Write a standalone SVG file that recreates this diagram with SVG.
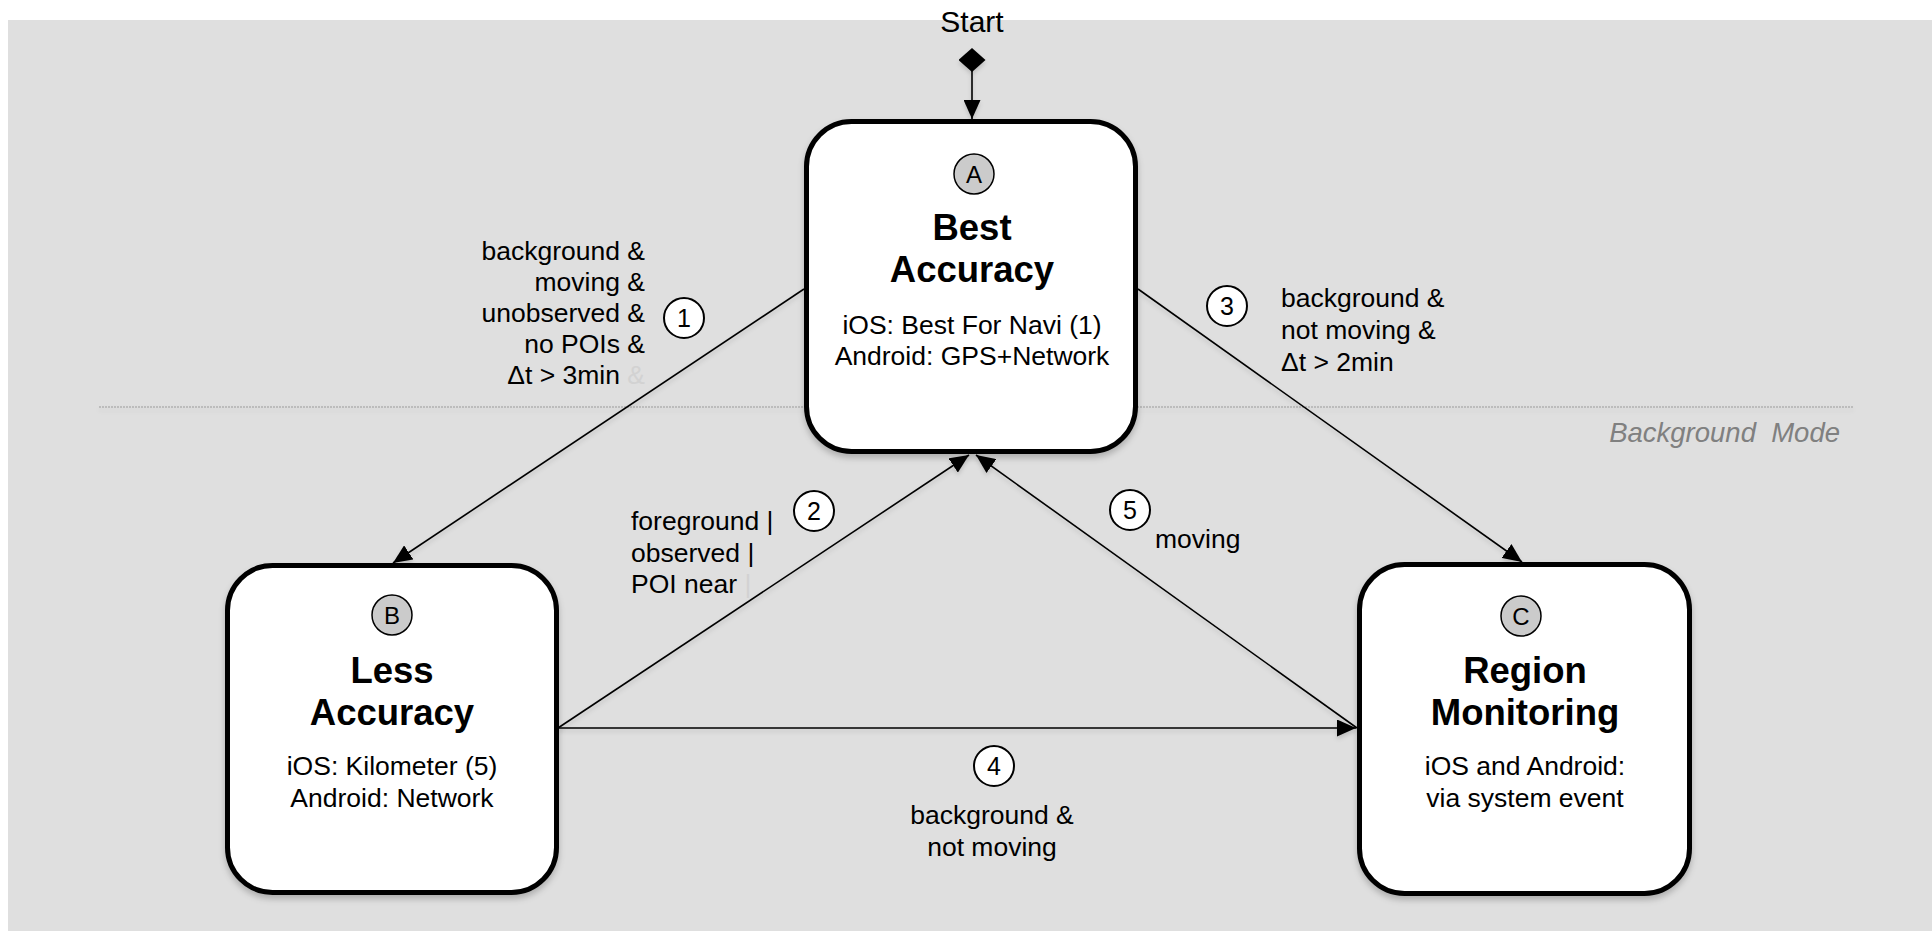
<svg xmlns="http://www.w3.org/2000/svg" width="1932" height="931" viewBox="0 0 1932 931">
<style>
  text { font-family: "Liberation Sans", Arial, Helvetica, sans-serif; fill: #000; }
  .title { font-size: 36.5px; font-weight: bold; text-anchor: middle; }
  .body { font-size: 26.5px; text-anchor: middle; }
  .lbl { font-size: 26.5px; }
  .num { font-size: 25px; text-anchor: middle; }
  .letter { font-size: 24px; text-anchor: middle; }
  .box { fill: #fff; stroke: #000; stroke-width: 5; }
  .badge { fill: #cbcbcb; stroke: #000; stroke-width: 1.5; }
  .numc { fill: #fff; stroke: #000; stroke-width: 2; }
  .edge { stroke: #000; stroke-width: 1.6; fill: none; marker-end: url(#arr); }
  .faint { fill: #d2d2d2; }
</style>
<defs>
  <filter id="shadow" x="-10%" y="-10%" width="120%" height="125%">
    <feDropShadow dx="0" dy="4" stdDeviation="3" flood-color="#000" flood-opacity="0.22"/>
  </filter>
  <filter id="lshadow" filterUnits="userSpaceOnUse" x="0" y="0" width="1932" height="931">
    <feDropShadow dx="0" dy="3" stdDeviation="2" flood-color="#000" flood-opacity="0.15"/>
  </filter>
  <marker id="arr" viewBox="0 0 19 17" refX="19" refY="8.5" markerWidth="19" markerHeight="17" markerUnits="userSpaceOnUse" orient="auto">
    <path d="M0,0 L19,8.5 L0,17 z" fill="#000"/>
  </marker>
  <marker id="diamond" viewBox="-12 -13.5 24 27" refX="0" refY="0" markerWidth="24" markerHeight="27" markerUnits="userSpaceOnUse" orient="auto">
    <path d="M-12,0 L0,-13.5 L12,0 L0,13.5 z" fill="#000"/>
  </marker>
</defs>

<rect x="8" y="20" width="1924" height="911" fill="#dfdfdf"/>

<g id="background-mode">
  <line x1="99" y1="407" x2="1853" y2="407" stroke="#9a9a9a" stroke-width="1" stroke-dasharray="2,1" filter="url(#lshadow)"/>
  <text x="1840" y="442" font-size="27.5" font-style="italic" text-anchor="end" style="fill:#808080" xml:space="preserve">Background  Mode</text>
</g>

<text x="972" y="32" font-size="30" text-anchor="middle">Start</text>

<g id="connectors" filter="url(#lshadow)">
  <line x1="972" y1="60" x2="972" y2="119" stroke="#000" stroke-width="1.6" marker-start="url(#diamond)" marker-end="url(#arr)"/>
  <line class="edge" x1="804" y1="289" x2="393" y2="563"/>
  <line class="edge" x1="558" y1="728" x2="969" y2="455"/>
  <line class="edge" x1="1138" y1="289" x2="1522" y2="562"/>
  <line class="edge" x1="558" y1="728" x2="1356" y2="728"/>
  <line class="edge" x1="1357" y1="728" x2="976" y2="455"/>
</g>

<g id="node-a">
  <rect class="box" x="806.5" y="121.5" width="329" height="330" rx="45" filter="url(#shadow)"/>
  <circle class="badge" cx="974" cy="174" r="20"/>
  <text class="letter" x="974" y="182.5">A</text>
  <text class="title" x="972" y="240">Best</text>
  <text class="title" x="972" y="282">Accuracy</text>
  <text class="body" x="972" y="334">iOS: Best For Navi (1)</text>
  <text class="body" x="972" y="365">Android: GPS+Network</text>
</g>

<g id="node-b">
  <rect class="box" x="227.5" y="565.5" width="329" height="327" rx="45" filter="url(#shadow)"/>
  <circle class="badge" cx="392" cy="615" r="20"/>
  <text class="letter" x="392" y="623.5">B</text>
  <text class="title" x="392" y="683">Less</text>
  <text class="title" x="392" y="725">Accuracy</text>
  <text class="body" x="392" y="775">iOS: Kilometer (5)</text>
  <text class="body" x="392" y="807">Android: Network</text>
</g>

<g id="node-c">
  <rect class="box" x="1359.5" y="564.5" width="330" height="329" rx="45" filter="url(#shadow)"/>
  <circle class="badge" cx="1521" cy="616" r="20"/>
  <text class="letter" x="1521" y="624.5">C</text>
  <text class="title" x="1525" y="683">Region</text>
  <text class="title" x="1525" y="725">Monitoring</text>
  <text class="body" x="1525" y="775">iOS and Android:</text>
  <text class="body" x="1525" y="807">via system event</text>
</g>

<g id="label-1">
  <circle class="numc" cx="684" cy="318" r="20"/>
  <text class="num" x="684" y="327">1</text>
  <text class="lbl" text-anchor="end" x="645" y="260">background &amp;</text>
  <text class="lbl" text-anchor="end" x="645" y="291">moving &amp;</text>
  <text class="lbl" text-anchor="end" x="645" y="322">unobserved &amp;</text>
  <text class="lbl" text-anchor="end" x="645" y="353">no POIs &amp;</text>
  <text class="lbl" text-anchor="end" x="645" y="384">Δt &gt; 3min <tspan class="faint">&amp;</tspan></text>
</g>

<g id="label-2">
  <circle class="numc" cx="814" cy="511" r="20"/>
  <text class="num" x="814" y="520">2</text>
  <text class="lbl" x="631" y="530">foreground |</text>
  <text class="lbl" x="631" y="562">observed |</text>
  <text class="lbl" x="631" y="593">POI near <tspan class="faint">|</tspan></text>
</g>

<g id="label-3">
  <circle class="numc" cx="1227" cy="306" r="20"/>
  <text class="num" x="1227" y="315">3</text>
  <text class="lbl" x="1281" y="307">background &amp;</text>
  <text class="lbl" x="1281" y="339">not moving &amp;</text>
  <text class="lbl" x="1281" y="371">Δt &gt; 2min</text>
</g>

<g id="label-4">
  <circle class="numc" cx="994" cy="766" r="20"/>
  <text class="num" x="994" y="775">4</text>
  <text class="lbl" text-anchor="middle" x="992" y="824">background &amp;</text>
  <text class="lbl" text-anchor="middle" x="992" y="856">not moving</text>
</g>

<g id="label-5">
  <circle class="numc" cx="1130" cy="510" r="20"/>
  <text class="num" x="1130" y="519">5</text>
  <text class="lbl" x="1155" y="548">moving</text>
</g>
</svg>
